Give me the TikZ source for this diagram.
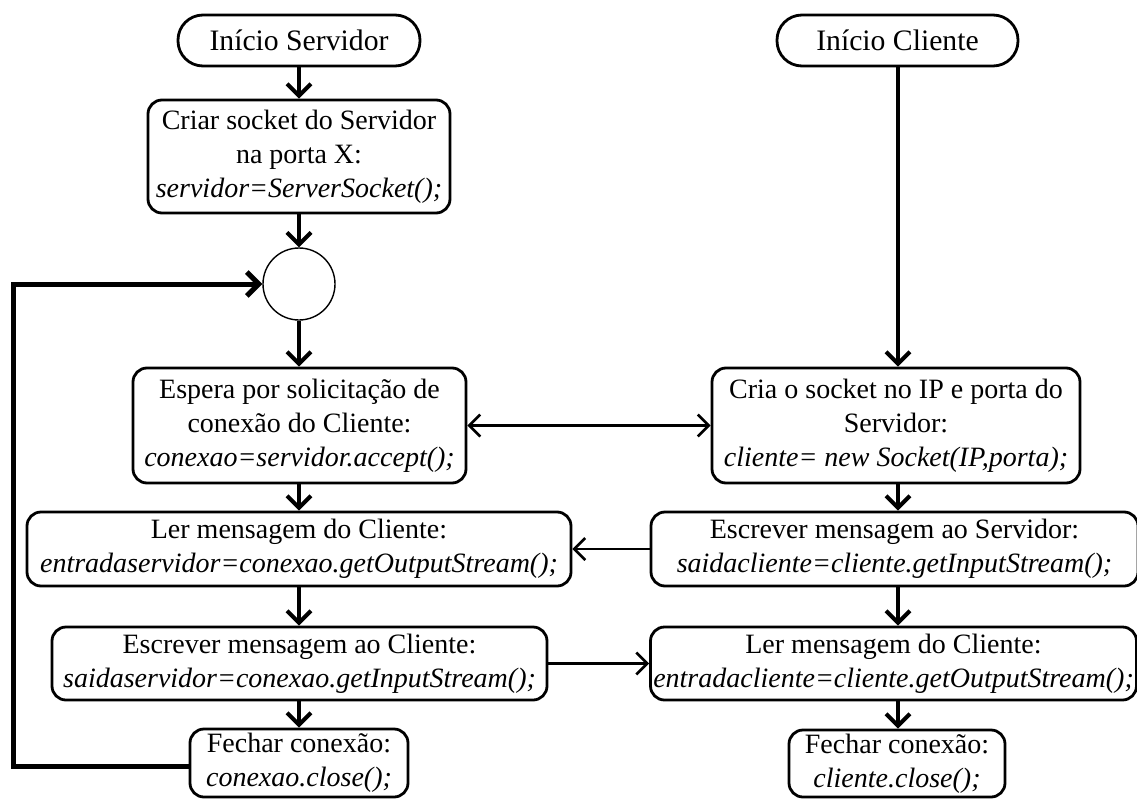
\documentclass[tikz,border=0pt]{standalone}
\usepackage{fontspec}
\setmainfont{Liberation Serif}
\usetikzlibrary{arrows.meta}

\begin{document}
\begin{tikzpicture}[x=1pt,y=-1pt,
  txt/.style={font=\fontsize{28pt}{34pt}\selectfont, align=center, inner sep=0pt},
  stepbox/.style={txt, draw, line width=2.8pt, rounded corners=14pt},
  terminal/.style={txt, draw, line width=2.8pt, rounded corners=25pt, font=\fontsize{29.7pt}{34pt}\selectfont},
  junction/.style={draw, circle, line width=1.4pt, inner sep=0pt, minimum size=72pt},
  flow/.style={line width=4pt, -{Straight Barb[length=12pt,width=24pt]}},
  link/.style={line width=2.6pt, -{Straight Barb[length=11pt,width=22pt]}},
  linkboth/.style={line width=2.6pt, {Straight Barb[length=11pt,width=22pt]}-{Straight Barb[length=11pt,width=22pt]}},
  loop/.style={line width=5pt, -{Straight Barb[length=12pt,width=24pt]}, line join=miter}
]
\useasboundingbox (0,0) rectangle (1137,800);

% server column
\node[terminal, minimum width=242pt, minimum height=51pt] (is) at (299,40.5) {Início Servidor};
\node[stepbox, minimum width=302pt, minimum height=113pt] (criar) at (299,156.5)
  {Criar socket do Servidor\\ na porta X:\\ \textit{servidor=ServerSocket();}};
\node[junction] (circ) at (299,284) {};
\node[stepbox, minimum width=333pt, minimum height=115pt] (espera) at (299.5,425.5)
  {Espera por solicitação de\\ conexão do Cliente:\\ \textit{conexao=servidor.accept();}};
\node[stepbox, minimum width=544pt, minimum height=74pt] (lerS) at (299,549)
  {Ler mensagem do Cliente:\\ \textit{entradaservidor=conexao.getOutputStream();}};
\node[stepbox, minimum width=495pt, minimum height=73pt] (escC) at (299.5,663.5)
  {Escrever mensagem ao Cliente:\\ \textit{saidaservidor=conexao.getInputStream();}};
\node[stepbox, minimum width=218pt, minimum height=68pt] (fechS) at (299,763)
  {Fechar conexão:\\ \textit{conexao.close();}};

% client column
\node[terminal, minimum width=241pt, minimum height=51pt] (ic) at (897.5,40.5) {Início Cliente};
\node[stepbox, minimum width=368pt, minimum height=115pt] (cria) at (896,425.5)
  {Cria o socket no IP e porta do\\ Servidor:\\ \textit{cliente= new Socket(IP,porta);}};
\node[stepbox, minimum width=487pt, minimum height=74pt] (escS) at (894.5,549)
  {Escrever mensagem ao Servidor:\\ \textit{saidacliente=cliente.getInputStream();}};
\node[stepbox, minimum width=486pt, minimum height=73pt] (lerC) at (893.5,663.5)
  {Ler mensagem do Cliente:\\ \textit{entradacliente=cliente.getOutputStream();}};
\node[stepbox, minimum width=216pt, minimum height=67pt] (fechC) at (897,763.5)
  {Fechar conexão:\\ \textit{cliente.close();}};

% loop-back point
\coordinate (back) at (13,766);

% server flow
\draw[flow] (is) -- (criar);
\draw[flow] (criar) -- (circ);
\draw[flow] (circ) -- (espera.north -| circ);
\draw[flow] (espera.south -| circ) -- (lerS.north -| circ);
\draw[flow] (lerS.south -| circ) -- (escC.north -| circ);
\draw[flow] (escC.south -| circ) -- (fechS);
\draw[loop] (fechS.west |- back) -- (back) |- (circ.west);

% client flow
\draw[flow] (ic.south -| 898,0) -- (cria.north -| 898,0);
\draw[flow] (cria.south -| 898,0) -- (escS.north -| 898,0);
\draw[flow] (escS.south -| 898,0) -- (lerC.north -| 898,0);
\draw[flow] (lerC.south -| 898,0) -- (fechC.north -| 898,0);

% exchanges between the two sides
\draw[linkboth] (espera.east) -- (cria.west);
\draw[link] (escS.west) -- (lerS.east);
\draw[link] (escC.east) -- (lerC.west);
\end{tikzpicture}
\end{document}
